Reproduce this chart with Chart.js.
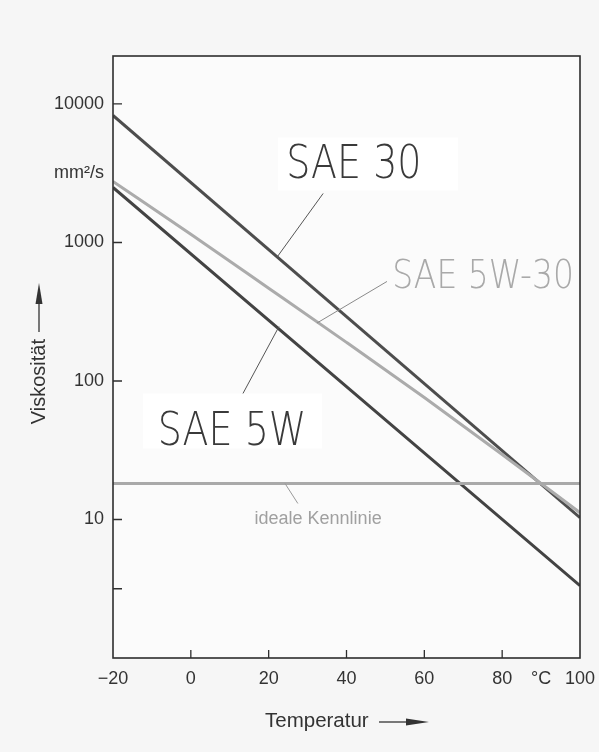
<!DOCTYPE html>
<html>
<head>
<meta charset="utf-8">
<script src="https://cdn.jsdelivr.net/npm/chart.js@4.4.1/dist/chart.umd.min.js"></script>
<style>
  html, body { margin: 0; padding: 0; background: #f6f6f6; }
  #wrap { width: 599px; height: 752px; position: relative; }
</style>
</head>
<body>
<div id="wrap"><canvas id="c"></canvas></div>
<script>
// ---- data ----
const tempsSae5w30 = [-20, 0, 20, 40, 60, 80, 100];
const viscSae5w30  = [2754, 1148, 468, 190, 76, 29.5, 11.2];
const tempsEnds    = [-20, 100];
const viscSae30    = [8260, 10.3];
const viscSae5w    = [2495, 3.33];
const viscIdeal    = [18.2, 18.2];

const xTickValues = [-20, 0, 20, 40, 60, 80, 90, 100];
const xTickLabels = ['\u221220', '0', '20', '40', '60', '80', '\u00B0C', '100'];
const xTickMarks  = [0, 20, 40, 60, 80];
const yTickValues = [1, 3.162, 10, 100, 1000, 3162, 10000];
const yTickLabels = ['', '', '10', '100', '1000', 'mm\u00B2/s', '10000'];
const yTickMarks  = [3.162, 10, 100, 1000, 10000];

const pts = (xs, ys) => xs.map((x, i) => ({ x: x, y: ys[i] }));

// annotation anchors in data units (temperature, viscosity)
const notes = {
  sae30:   { text: 'SAE 30',    x: 41.9, y: 3540, size: 38, color: '#3a3a3a', box: [22.4, 5730, 68.7, 2371],
             lead: [34.0, 2259, 22.1, 780] },
  sae5w30: { text: 'SAE 5W-30', x: 75.1, y: 558,  size: 33, color: '#a9a9a9', box: null,
             lead: [50.4, 523, 32.4, 262] },
  sae5w:   { text: 'SAE 5W',    x: 10.6, y: 42,   size: 38, color: '#3a3a3a', box: [-12.3, 81.3, 33.7, 32.6],
             lead: [13.4, 81.3, 22.65, 247] },
  ideal:   { text: 'ideale Kennlinie', x: 32.7, y: 10, size: 18, color: '#a0a0a0', box: null,
             lead: [24.2, 18.2, 27.5, 13.05] }
};

const deco = {
  id: 'deco',
  beforeDatasetsDraw(chart) {
    const { ctx, chartArea: a, scales: { x, y } } = chart;
    ctx.save();
    ctx.fillStyle = '#fbfbfb';
    ctx.fillRect(a.left, a.top, a.right - a.left, a.bottom - a.top);
    ctx.fillStyle = '#ffffff';
    for (const k in notes) {
      const b = notes[k].box;
      if (!b) continue;
      const x1 = x.getPixelForValue(b[0]), y1 = y.getPixelForValue(b[1]);
      const x2 = x.getPixelForValue(b[2]), y2 = y.getPixelForValue(b[3]);
      ctx.fillRect(x1, y1, x2 - x1, y2 - y1);
    }
    ctx.restore();
  },
  afterDatasetsDraw(chart) {
    const { ctx, chartArea: a, scales: { x, y } } = chart;
    ctx.save();
    // frame
    ctx.strokeStyle = '#2e2e2e';
    ctx.lineWidth = 1.6;
    ctx.strokeRect(a.left, a.top, a.right - a.left, a.bottom - a.top);
    // inner tick marks
    ctx.lineWidth = 1.3;
    ctx.beginPath();
    xTickMarks.forEach(v => {
      const px = x.getPixelForValue(v);
      ctx.moveTo(px, a.bottom); ctx.lineTo(px, a.bottom - 8);
    });
    yTickMarks.forEach(v => {
      const py = y.getPixelForValue(v);
      ctx.moveTo(a.left, py); ctx.lineTo(a.left + 9, py);
    });
    ctx.stroke();
    // leaders
    for (const k in notes) {
      const n = notes[k], l = n.lead;
      ctx.strokeStyle = k === 'sae5w30' ? '#8a8a8a' : (k === 'ideal' ? '#9a9a9a' : '#555');
      ctx.lineWidth = 1;
      ctx.beginPath();
      ctx.moveTo(x.getPixelForValue(l[0]), y.getPixelForValue(l[1]));
      ctx.lineTo(x.getPixelForValue(l[2]), y.getPixelForValue(l[3]));
      ctx.stroke();
    }
    // texts
    ctx.textAlign = 'center';
    ctx.textBaseline = 'middle';
    for (const k in notes) {
      const n = notes[k];
      const px = x.getPixelForValue(n.x), py = y.getPixelForValue(n.y);
      ctx.fillStyle = n.color;
      ctx.save();
      ctx.translate(px, py);
      if (k === 'ideal') {
        ctx.font = n.size + 'px "Liberation Sans", Arial, sans-serif';
      } else {
        ctx.font = '200 ' + n.size + 'px "DejaVu Sans", sans-serif';
        ctx.scale(1, 1.2);
      }
      ctx.fillText(n.text, 0, 0);
      ctx.restore();
    }
    ctx.restore();
  },
  afterDraw(chart) {
    const { ctx } = chart;
    ctx.save();
    ctx.fillStyle = '#333';
    ctx.strokeStyle = '#333';
    ctx.font = '20.5px "Liberation Sans", Arial, sans-serif';
    ctx.textBaseline = 'middle';
    // x title
    ctx.textAlign = 'left';
    ctx.fillText('Temperatur', 265, 721);
    ctx.lineWidth = 1.3;
    ctx.beginPath(); ctx.moveTo(379, 722); ctx.lineTo(410, 722); ctx.stroke();
    ctx.beginPath(); ctx.moveTo(429, 722); ctx.lineTo(406, 718.5); ctx.lineTo(406, 725.5); ctx.closePath(); ctx.fill();
    // y title
    ctx.save();
    ctx.translate(39, 0);
    ctx.rotate(-Math.PI / 2);
    ctx.textAlign = 'right';
    ctx.font = '20px "Liberation Sans", Arial, sans-serif';
    ctx.fillText('Viskosit\u00E4t', -339, 0);
    ctx.beginPath(); ctx.moveTo(-332, 0); ctx.lineTo(-300, 0); ctx.stroke();
    ctx.beginPath(); ctx.moveTo(-283, 0); ctx.lineTo(-304, -3.5); ctx.lineTo(-304, 3.5); ctx.closePath(); ctx.fill();
    ctx.restore();
    ctx.restore();
  }
};

const lineDs = (label, data, color, width) => ({
  label, data, borderColor: color, borderWidth: width, showLine: true,
  pointRadius: 0, fill: false, tension: 0.3, cubicInterpolationMode: 'monotone'
});

new Chart(document.getElementById('c'), {
  type: 'scatter',
  data: {
    datasets: [
      lineDs('ideale Kennlinie', pts(tempsEnds, viscIdeal), '#a9a9a9', 3),
      lineDs('SAE 5W-30', pts(tempsSae5w30, viscSae5w30), '#ababab', 3),
      lineDs('SAE 30', pts(tempsEnds, viscSae30), '#4d4d4d', 3),
      lineDs('SAE 5W', pts(tempsEnds, viscSae5w), '#434343', 3)
    ]
  },
  options: {
    responsive: true,
    maintainAspectRatio: false,
    animation: false,
    layout: { padding: { top: 56, right: 19, left: 0, bottom: 0 } },
    plugins: { legend: { display: false }, tooltip: { enabled: false } },
    scales: {
      x: {
        type: 'linear', min: -20, max: 100,
        grid: { display: false, drawTicks: false },
        border: { display: false },
        afterBuildTicks: s => { s.ticks = xTickValues.map(v => ({ value: v })); },
        afterFit: s => { s.height = 94; s.paddingLeft = 0; s.paddingRight = 0; },
        ticks: {
          autoSkip: false, maxRotation: 0, padding: 10, color: '#333',
          font: { family: '"Liberation Sans", Arial, sans-serif', size: 18 },
          callback: (v, i) => xTickLabels[i]
        }
      },
      y: {
        type: 'logarithmic', min: 1, max: 22200,
        grid: { display: false, drawTicks: false },
        border: { display: false },
        afterBuildTicks: s => { s.ticks = yTickValues.map(v => ({ value: v })); },
        afterFit: s => { s.width = 113; s.paddingTop = 0; s.paddingBottom = 0; },
        ticks: {
          autoSkip: false, padding: 9, color: '#333',
          font: { family: '"Liberation Sans", Arial, sans-serif', size: 18 },
          callback: (v, i) => yTickLabels[i]
        }
      }
    }
  },
  plugins: [deco]
});
</script>
</body>
</html>
